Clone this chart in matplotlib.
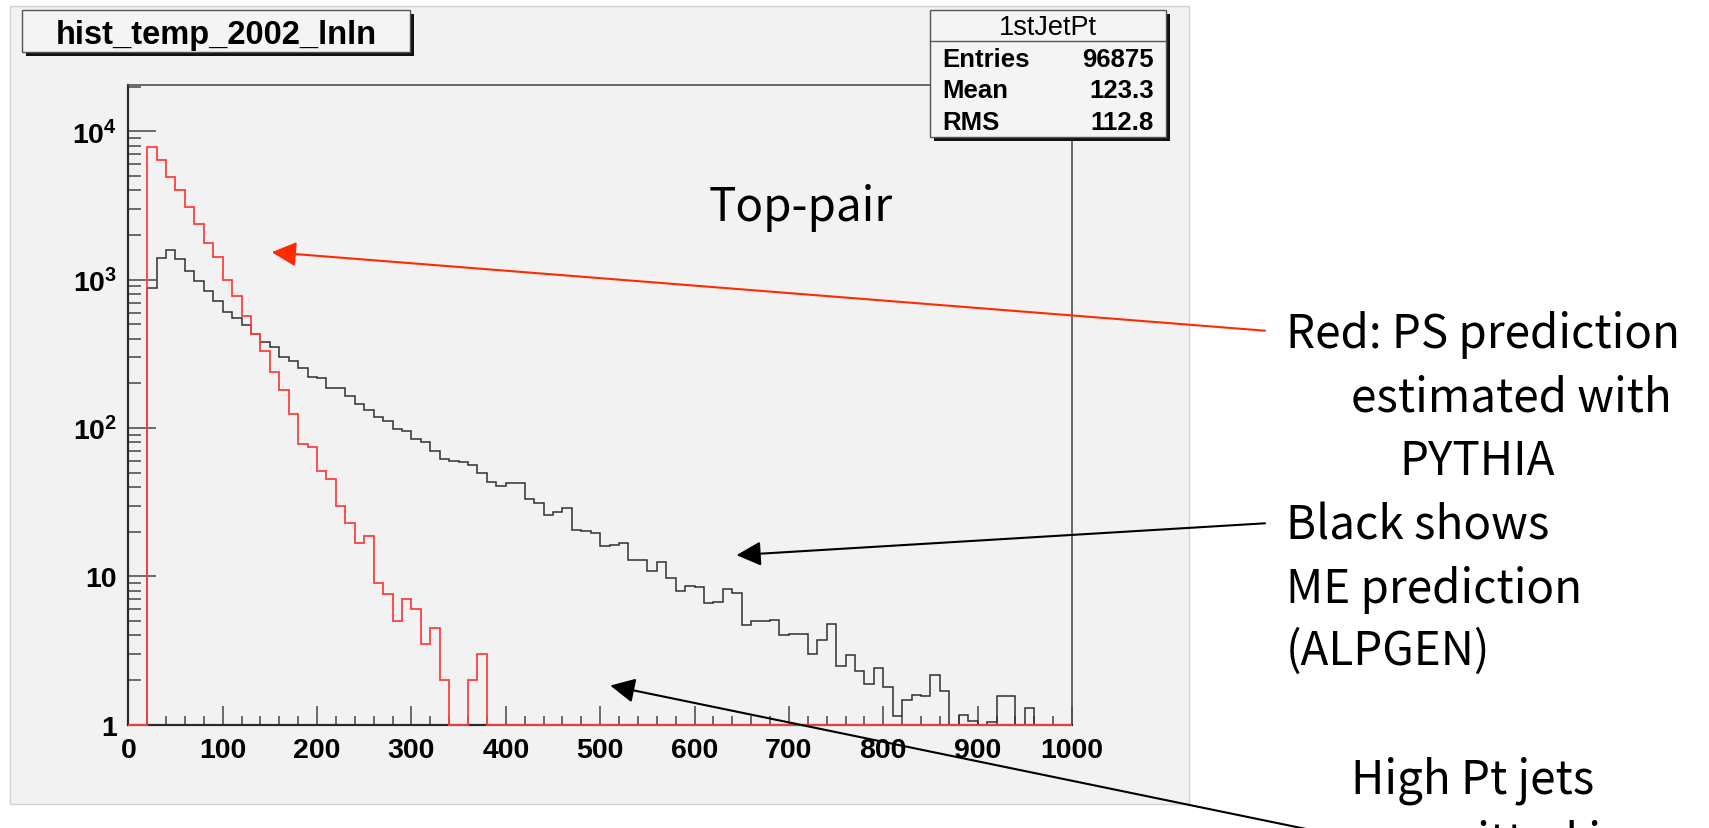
import numpy as np
import matplotlib
matplotlib.use("Agg")
import matplotlib.pyplot as plt
from matplotlib.patches import Rectangle
from matplotlib.ticker import MultipleLocator, LogLocator, NullFormatter

plt.rcParams['mathtext.fontset'] = 'custom'
plt.rcParams['mathtext.rm'] = 'Liberation Sans:bold'
plt.rcParams['mathtext.bf'] = 'Liberation Sans:bold'
plt.rcParams['mathtext.it'] = 'Liberation Sans:bold'
plt.rcParams['mathtext.default'] = 'rm'

# 100 bins of 10 GeV, 0 - 1000 (leading jet pt)
bin_edges = np.arange(0, 1001, 10)

# red: PS prediction (PYTHIA)
red_counts = [0, 0, 7780, 6390, 4885, 4030, 3070, 2366, 1770, 1412,
              997, 774, 568, 430, 331, 237, 181, 125, 78, 74,
              51.5, 45, 30, 23, 16.7, 18.6, 9, 7.6, 5, 7,
              6, 3.5, 4.5, 2, 0, 0, 2, 3] + [0] * 62

# black: ME prediction (ALPGEN)
black_counts = [0, 0, 877, 1396, 1581, 1375, 1135, 982, 832, 713,
                606, 548, 498, 430, 381, 352, 302, 281, 252, 221,
                216, 187, 185, 163, 145, 132, 119, 111, 98, 96,
                84, 81, 70, 62, 60, 59, 56.5, 49.4, 43.5, 40.8,
                42.3, 42.3, 33.2, 31.2, 26, 27.2, 28.7, 20.5, 20.2, 19.6,
                16.1, 16.3, 16.7, 12.9, 12.9, 10.9, 12.4, 9.7, 8.0, 8.6,
                8.5, 6.6, 6.7, 8.2, 7.7, 4.7, 5.0, 5.0, 5.1, 4.0,
                4.1, 4.1, 3.0, 3.7, 4.8, 2.5, 2.95, 2.3, 1.88, 2.4,
                1.8, 1.15, 1.47, 1.59, 1.55, 2.17, 1.68, 0, 1.16, 1.06,
                0, 1.04, 1.57, 1.57, 0, 1.29, 0, 0, 0, 0]

x_ticks = list(range(0, 1001, 100))
y_ticks = [1, 10, 100, 1000, 10000]
y_ticklabels = ['1', '10', '$10^{2}$', '$10^{3}$', '$10^{4}$']

stats_title = '1stJetPt'
stats_names = ['Entries', 'Mean', 'RMS']
stats_values = ['96875', '123.3', '112.8']

W, H = 1709, 829
fig = plt.figure(figsize=(W / 100, H / 100), dpi=100)
fig.patch.set_facecolor('white')

# background pad (pixel coordinates)
bg = fig.add_axes([0, 0, 1, 1], zorder=0)
bg.set_xlim(0, W)
bg.set_ylim(H, 0)
bg.axis('off')
bg.add_patch(Rectangle((10, 7), 1179, 798, facecolor='#f2f2f2', edgecolor='#d2d2d2', lw=1))

# histogram frame
ax = fig.add_axes([128.3 / W, 1 - 725.7 / H, (1072 - 128.3) / W, (725.7 - 86) / H], zorder=1)
ax.set_facecolor('#f2f2f2')
ax.set_yscale('log')
ax.set_xlim(0, 1000)
ax.set_ylim(1, 2.05e4)

# empty bins sit on the bottom of the frame, as in ROOT
black_plot = np.where(np.array(black_counts) > 1, black_counts, 1)
red_plot = np.where(np.array(red_counts) > 1, red_counts, 1)
ax.stairs(black_plot, bin_edges, baseline=1, color='#303030', lw=1.1, clip_on=False, zorder=3)
ax.stairs(red_plot, bin_edges, baseline=1, color='#ff4040', lw=1.3, clip_on=False, zorder=4)

ax.set_xticks(x_ticks)
ax.set_xticklabels([str(t) for t in x_ticks])
ax.xaxis.set_minor_locator(MultipleLocator(20))
ax.set_yticks(y_ticks)
ax.set_yticklabels(y_ticklabels)
ax.yaxis.set_minor_locator(LogLocator(base=10, subs=np.arange(2, 10)))
ax.yaxis.set_minor_formatter(NullFormatter())

ax.tick_params(which='both', direction='in', top=False, right=False, color='#6a6a6a', width=1.4)
ax.tick_params(axis='y', which='major', length=20, pad=8)
ax.tick_params(axis='y', which='minor', length=9.5)
ax.tick_params(axis='x', which='major', length=13.5, pad=9)
ax.tick_params(axis='x', which='minor', length=6.5)
for lab in ax.get_xticklabels() + ax.get_yticklabels():
    lab.set_fontfamily('Liberation Sans')
    lab.set_fontweight('bold')
    lab.set_fontsize(20.5)

for side in ['top', 'right']:
    ax.spines[side].set_color('#505050')
    ax.spines[side].set_linewidth(1.2)
for side in ['left', 'bottom']:
    ax.spines[side].set_color('#2a2a2a')
    ax.spines[side].set_linewidth(1.6)

# overlay for boxes, text and arrows (pixel coordinates)
ov = fig.add_axes([0, 0, 1, 1], zorder=2)
ov.set_xlim(0, W)
ov.set_ylim(H, 0)
ov.axis('off')

# title box with shadow
ov.add_patch(Rectangle((26, 15), 388, 42, facecolor='#111111', edgecolor='none'))
ov.add_patch(Rectangle((22, 11), 388, 42, facecolor='#f4f4f4', edgecolor='#555555', lw=1))
ov.text(216, 44.3, 'hist_temp_2002_lnln', ha='center', va='baseline',
        family='Liberation Sans', weight='bold', fontsize=23.5)

# stats box with shadow
ov.add_patch(Rectangle((934, 15), 236, 127, facecolor='#111111', edgecolor='none'))
ov.add_patch(Rectangle((930, 11), 236, 127, facecolor='#f4f4f4', edgecolor='#555555', lw=1))
ov.plot([930, 1166], [42.3, 42.3], color='#555555', lw=1)
ov.text(1048, 35, stats_title, ha='center', va='baseline',
        family='Liberation Sans', fontsize=19.5)
for i, (name, val) in enumerate(zip(stats_names, stats_values)):
    yb = 66.7 + i * 31.7
    ov.text(942, yb, name, ha='left', va='baseline', family='Liberation Sans',
            weight='bold', fontsize=18.5)
    ov.text(1154, yb, val, ha='right', va='baseline', family='Liberation Sans',
            weight='bold', fontsize=18.5)

# annotations
jp = ['Noto Sans CJK JP', 'DejaVu Sans']
fs = 33
ov.text(709, 221, 'Top-pair', ha='left', va='baseline', family=jp, fontsize=fs)
ov.text(1286, 348, 'Red: PS prediction', ha='left', va='baseline', family=jp, fontsize=fs)
ov.text(1351, 411.7, 'estimated with', ha='left', va='baseline', family=jp, fontsize=fs)
ov.text(1399, 475, 'PYTHIA', ha='left', va='baseline', family=jp, fontsize=fs)
ov.text(1286, 539.3, 'Black shows', ha='left', va='baseline', family=jp, fontsize=fs)
ov.text(1286, 603.3, 'ME prediction', ha='left', va='baseline', family=jp, fontsize=fs)
ov.text(1286, 665, '(ALPGEN)', ha='left', va='baseline', family=jp, fontsize=fs)
ov.text(1351, 793.3, 'High Pt jets', ha='left', va='baseline', family=jp, fontsize=fs)
# next line is cut by the bottom edge in the original slide
ov.text(1330, 857, 'are emitted in', ha='left', va='baseline', family=jp, fontsize=fs)

head = '-|>,head_length=1.5,head_width=0.75'
ov.annotate('', xy=(152, 1530), xycoords=ax.transData, xytext=(1265, 331.7),
            textcoords='data', annotation_clip=False,
            arrowprops=dict(arrowstyle=head, color='#ff2a00', lw=1.5,
                            shrinkA=0, shrinkB=0, mutation_scale=10))
ov.annotate('', xy=(644.5, 13.9), xycoords=ax.transData, xytext=(1265, 524.3),
            textcoords='data', annotation_clip=False,
            arrowprops=dict(arrowstyle=head, color='black', lw=1.5,
                            shrinkA=0, shrinkB=0, mutation_scale=10))
ov.annotate('', xy=(510.7, 1.835), xycoords=ax.transData, xytext=(1340, 837),
            textcoords='data', annotation_clip=False,
            arrowprops=dict(arrowstyle=head, color='black', lw=1.5,
                            shrinkA=0, shrinkB=0, mutation_scale=10))

fig.savefig('out.png', dpi=100, facecolor='white')
